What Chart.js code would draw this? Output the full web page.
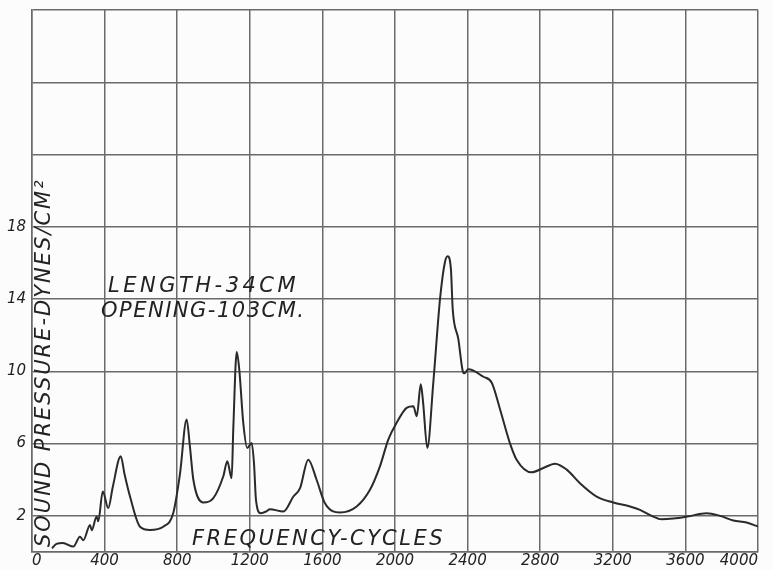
<!DOCTYPE html>
<html>
<head>
<meta charset="utf-8">
<script src="https://cdn.jsdelivr.net/npm/chart.js@4/dist/chart.umd.min.js"></script>
<style>
  html, body { margin: 0; padding: 0; background: #fcfcfc; }
  #wrap { width: 773px; height: 570px; }
</style>
</head>
<body>
<div id="wrap"><canvas id="hornChart" width="773" height="570"></canvas></div>
<script>
// frequency in cycles
const freq = [110, 135, 170, 228, 264, 283, 320, 329, 356, 365, 390, 420, 445, 489, 510, 540, 595, 650,
  723, 778, 815, 852, 870, 889, 944, 999, 1054, 1076, 1100, 1109, 1128, 1142, 1164, 1186, 1210,
  1223, 1234, 1260, 1290, 1311, 1385, 1440, 1477, 1522, 1568, 1614, 1697, 1789, 1862, 1917, 1963,
  2009, 2064, 2101, 2120, 2142, 2155, 2178, 2211, 2248, 2275, 2290, 2308, 2318, 2349, 2373, 2382,
  2404, 2487, 2533, 2579, 2634, 2670, 2753, 2817, 2882, 2946, 3019, 3111, 3203, 3295, 3350, 3414,
  3469, 3533, 3610, 3717, 3791, 3864, 3937, 4000];
// sound pressure, dynes/cm2
const pressure = [0.2, 0.45, 0.5, 0.3, 0.85, 0.65, 1.5, 1.2, 1.96, 1.7, 3.35, 2.43, 3.6, 5.3, 4.3, 3.07, 1.4, 1.22,
  1.4, 2.15, 4.3, 7.33, 5.85, 4.0, 2.74, 2.98, 4.19, 5.02, 4.09, 6.8, 11.07, 10.1, 7.15, 5.76, 6.04,
  4.93, 2.89, 2.15, 2.24, 2.37, 2.24, 3.07, 3.54, 5.11, 4.0, 2.7, 2.19, 2.52, 3.44, 4.74, 6.22,
  7.15, 7.98, 8.07, 7.52, 9.28, 8.26, 5.76, 9.37, 14.0, 16.04, 16.37, 15.67, 13.44, 11.78, 10.02, 9.89,
  10.11, 9.7, 9.37, 7.89, 6.0, 5.11, 4.41, 4.65, 4.89, 4.56, 3.81, 3.07, 2.74, 2.52, 2.33, 2.0,
  1.81, 1.85, 1.96, 2.15, 2.0, 1.74, 1.63, 1.41];

const yGridValues = [0, 2, 6, 10, 14, 18, 22, 26, 30];
const yLabelled = [2, 6, 10, 14, 18];

const inkColor = '#222';
const gridColor = '#6a6a6a';
const letterFont = '"DejaVu Sans", sans-serif';

// hand-lettered notes drawn on the plot area
const notesPlugin = {
  id: 'notes',
  afterDraw(chart) {
    const { ctx, chartArea } = chart;
    ctx.save();
    ctx.fillStyle = inkColor;
    ctx.textBaseline = 'middle';
    ctx.textAlign = 'left';
    ctx.font = 'italic 21px ' + letterFont;
    ctx.letterSpacing = '3.5px';
    ctx.fillText('LENGTH-34CM', 108, 287);
    ctx.letterSpacing = '1.5px';
    ctx.fillText('OPENING-103CM.', 101, 312);
    ctx.letterSpacing = '2.5px';
    ctx.fillText('FREQUENCY-CYCLES', 192, 540);

    // y axis title runs up inside the grid
    ctx.translate(chartArea.left + 13, chartArea.bottom - 5);
    ctx.rotate(-Math.PI / 2);
    ctx.font = 'italic 21px ' + letterFont;
    ctx.letterSpacing = '2px';
    ctx.fillText('SOUND PRESSURE-DYNES/CM\u00B2', 0, 0);
    ctx.restore();
  }
};

// keep the tick labels from pushing the grid inwards
const noOverhang = s => {
  s.paddingLeft = 0;
  s.paddingRight = 0;
  s.paddingTop = 0;
  s.paddingBottom = 0;
};

const ctx = document.getElementById('hornChart').getContext('2d');

new Chart(ctx, {
  type: 'line',
  data: {
    datasets: [{
      label: 'Sound pressure',
      data: freq.map((f, i) => ({ x: f, y: pressure[i] })),
      borderColor: '#2a2a2a',
      borderWidth: 2,
      pointRadius: 0,
      fill: false,
      cubicInterpolationMode: 'monotone'
    }]
  },
  options: {
    responsive: false,
    animation: false,
    layout: { padding: { top: 10, right: 15, left: 0, bottom: 0 } },
    plugins: {
      legend: { display: false },
      tooltip: { enabled: false }
    },
    scales: {
      x: {
        type: 'linear',
        min: 0,
        max: 4000,
        ticks: {
          stepSize: 400,
          color: inkColor,
          font: { family: letterFont, size: 15, style: 'italic' },
          padding: 0,
          maxRotation: 0,
          autoSkip: false,
          align: 'inner',
          callback: v => String(v)
        },
        grid: { color: gridColor, lineWidth: 1.5, drawTicks: false },
        border: { color: gridColor, width: 1.5 },
        afterFit: s => { s.height = 18; noOverhang(s); }
      },
      y: {
        min: 0,
        max: 30,
        afterBuildTicks: s => { s.ticks = yGridValues.map(v => ({ value: v })); },
        ticks: {
          color: inkColor,
          font: { family: letterFont, size: 15, style: 'italic' },
          padding: 6,
          callback: v => yLabelled.includes(v) ? v : ''
        },
        grid: { color: gridColor, lineWidth: 1.5, drawTicks: false },
        border: { color: gridColor, width: 1.5 },
        afterFit: s => { s.width = 32; noOverhang(s); }
      }
    }
  },
  plugins: [notesPlugin]
});
</script>
</body>
</html>
